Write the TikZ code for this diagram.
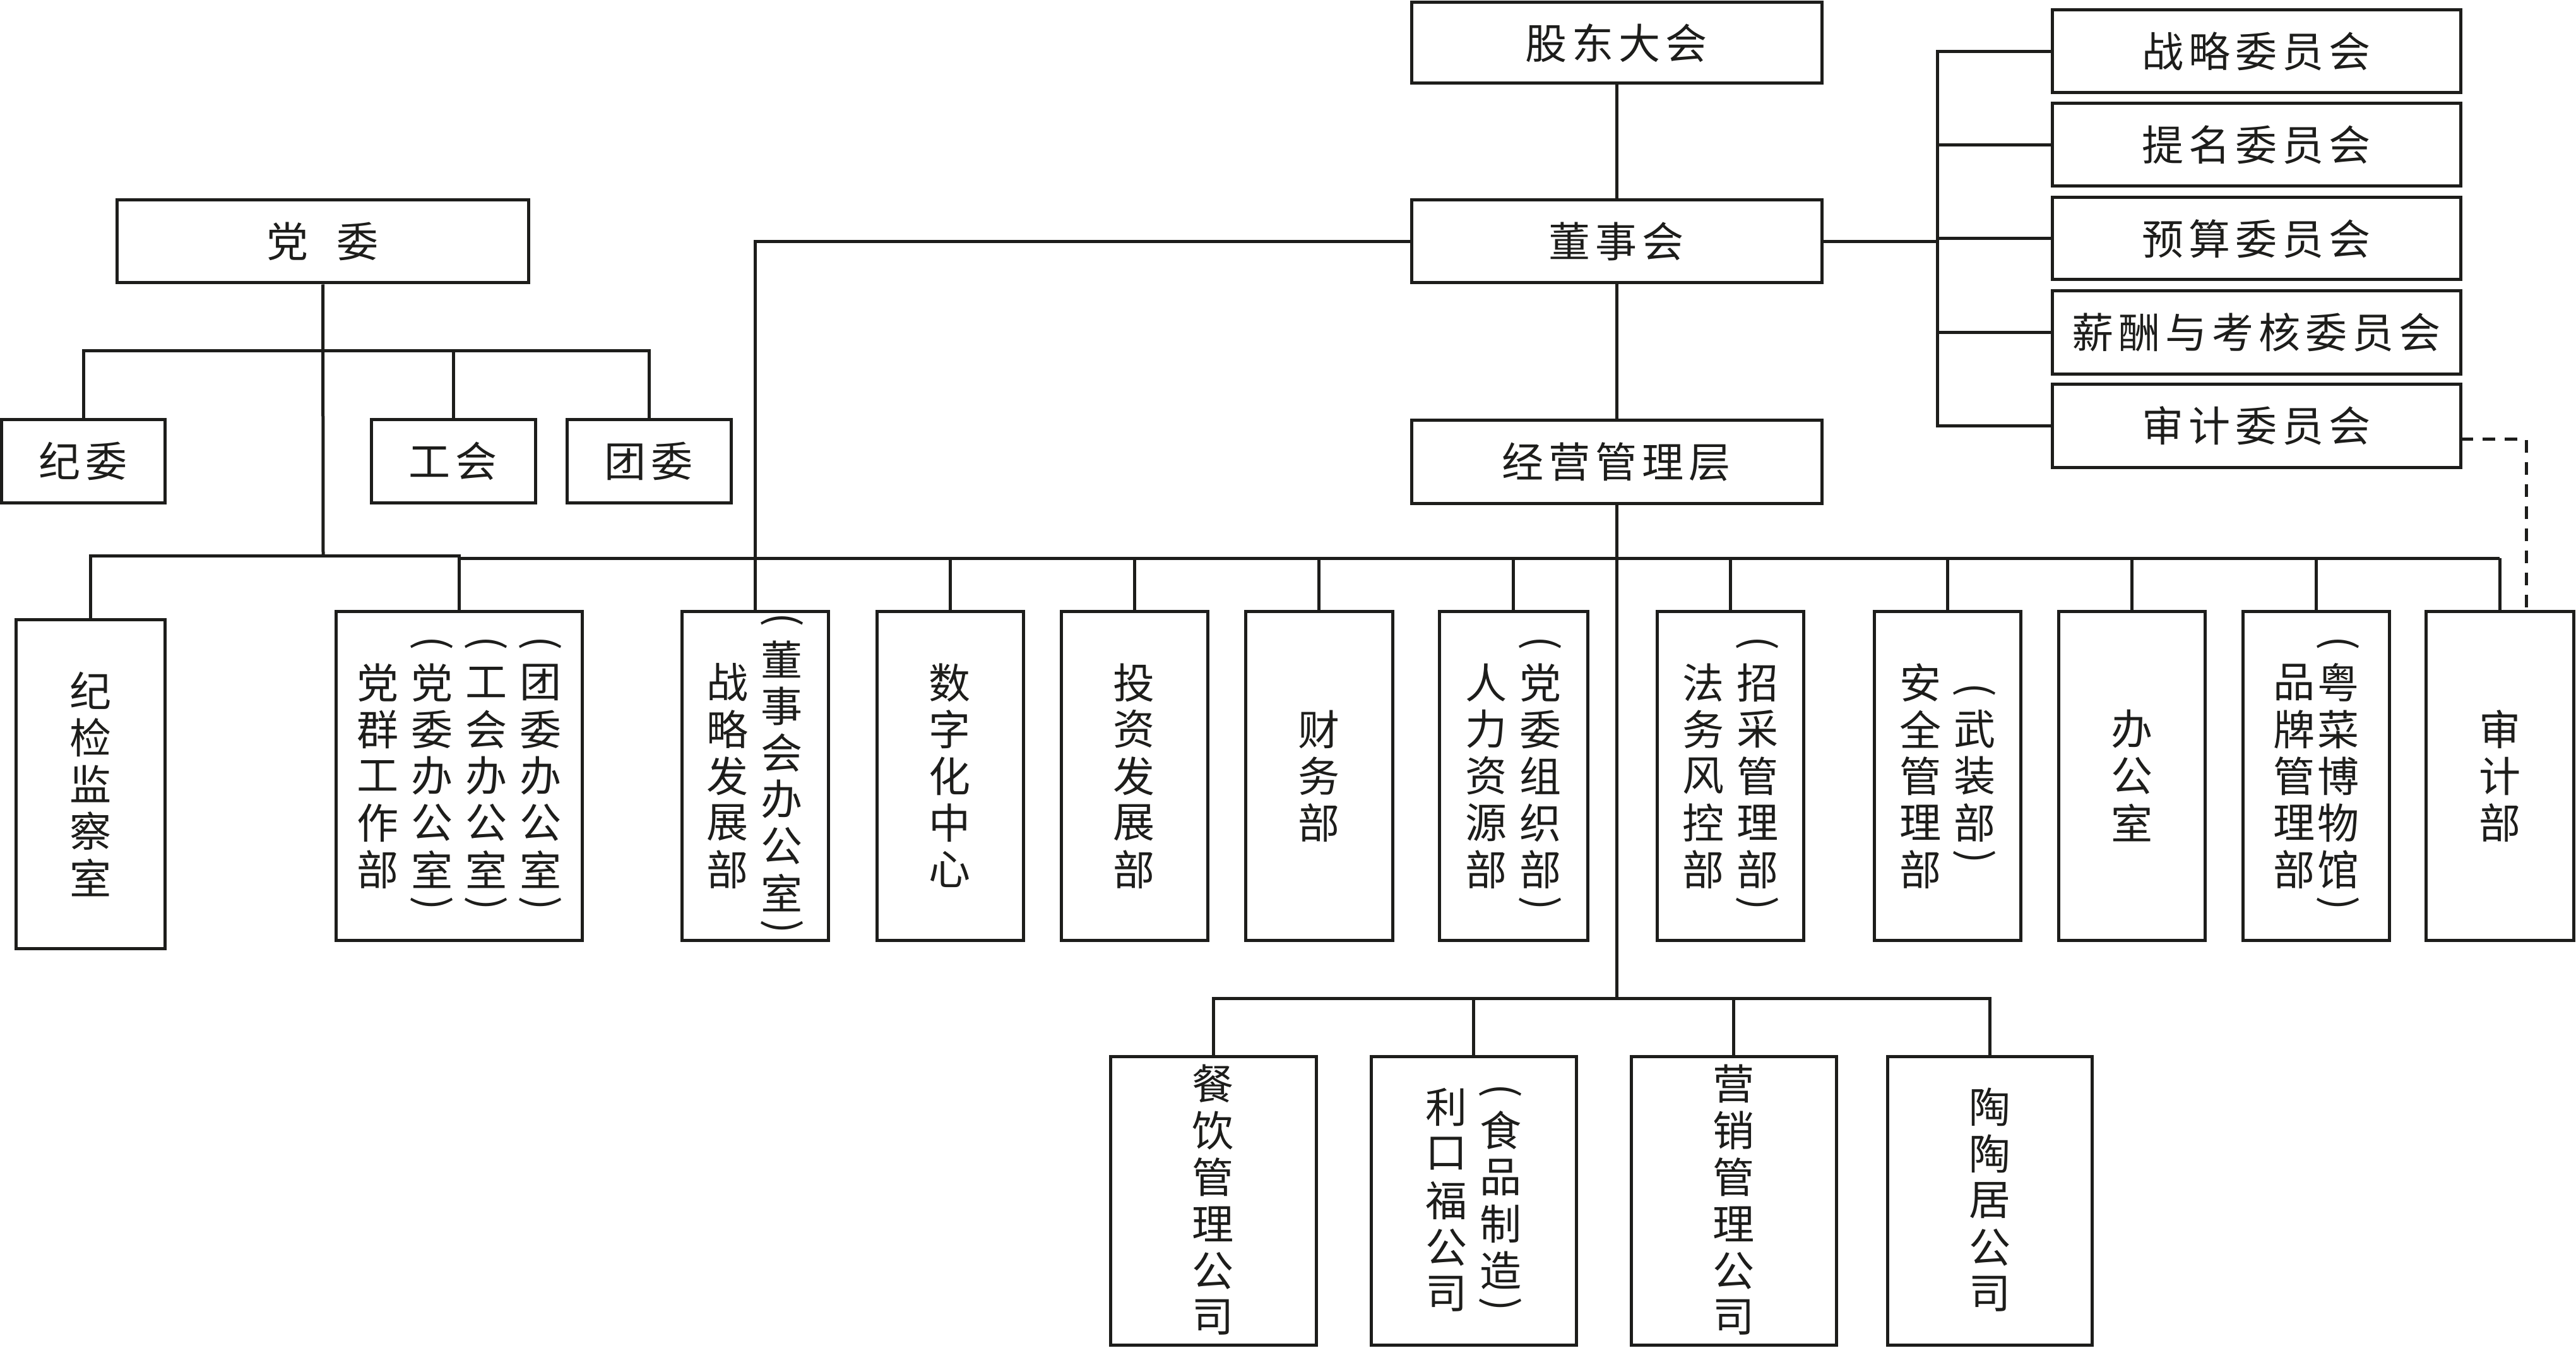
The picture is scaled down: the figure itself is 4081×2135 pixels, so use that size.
\documentclass[tikz,border=0pt]{standalone}
\usepackage{fontspec}
\setmainfont{Noto Sans CJK SC}
\usepackage{graphicx}
\usetikzlibrary{calc}
\definecolor{ink}{RGB}{29,29,27}
\newcommand\orgfont{\fontsize{18.8pt}{22pt}\selectfont}

\ExplSyntaxOn
\NewDocumentCommand \hchars { O{7.4mm} m }
  { \tl_map_inline:nn {#2} { \hbox_to_wd:nn {#1} { \hss ##1 \hss } } }
\cs_new:Npn \org_slot:nn #1#2
  { \hbox_to_wd:nn {#1} { \hss \vbox_to_ht:nn {7.4mm} { \vss \hbox:n {#2} \vss } \hss } }
\cs_new:Npn \org_bslot:nn #1#2
  { \hbox_to_wd:nn {#1} { \hss \vbox_to_ht:nn {4.2mm} { \vss \hbox:n { \rotatebox[origin=c]{-90}{#2} } \vss } \hss } }
\NewDocumentCommand \vcol { O{8.6mm} m }
  { \vcenter { \offinterlineskip \tl_map_inline:nn {#2} { \org_slot:nn {#1} {##1} } } }
\NewDocumentCommand \vcolb { O{8.6mm} m }
  { \vcenter { \offinterlineskip \org_bslot:nn {#1} {(} \tl_map_inline:nn {#2} { \org_slot:nn {#1} {##1} } \org_bslot:nn {#1} {)} } }
\ExplSyntaxOff

\newcommand\orgbox[6]{%
  \pgfmathsetmacro\obw{(#4-#2)*0.1}%
  \pgfmathsetmacro\obh{(#5-#3)*0.1}%
  \pgfmathsetmacro\obx{(#2+#4)/2}%
  \pgfmathsetmacro\oby{(#3+#5)/2}%
  \node[orgnode, minimum width=\obw mm, minimum height=\obh mm] (#1) at (\obx,\oby) {#6};}
\newcommand\vorgbox[6]{%
  \orgbox{#1}{#2}{#3}{#4}{#5}{}%
  \node[vtext] (#1-t) at (#1.center) {$#6$};}

\begin{document}
\begin{tikzpicture}[x=0.1mm,y=-0.1mm,
  orgnode/.style={draw=ink,line width=0.5mm,inner sep=0pt,text=ink,font=\orgfont},
  vtext/.style={inner sep=0pt,text=ink,font=\orgfont},
  conn/.style={draw=ink,line width=0.5mm},
  dashconn/.style={draw=ink,line width=0.5mm,dash pattern=on 2mm off 1.5mm}]
\useasboundingbox (0,0) rectangle (4081,2135);

% top level
\orgbox{gd}{2236}{4}{2886}{132}{\hchars{股东大会}}
\orgbox{dsh}{2236}{317}{2886}{448}{\hchars{董事会}}
\orgbox{jy}{2236}{666}{2886}{797}{\hchars{经营管理层}}
\orgbox{dw}{186}{317}{837}{448}{\hchars[11.1mm]{党委}}
\orgbox{jw}{3}{665}{261}{796}{\hchars{纪委}}
\orgbox{gh}{588}{665}{848}{796}{\hchars{工会}}
\orgbox{tw}{898}{665}{1158}{796}{\hchars{团委}}

% committees
\orgbox{zl}{3251}{16}{3898}{147}{\hchars{战略委员会}}
\orgbox{tm}{3251}{164}{3898}{295}{\hchars{提名委员会}}
\orgbox{ys}{3251}{313}{3898}{443}{\hchars{预算委员会}}
\orgbox{xc}{3251}{461}{3898}{592}{\hchars{薪酬与考核委员会}}
\orgbox{sj}{3251}{609}{3898}{740}{\hchars{审计委员会}}

% departments
\vorgbox{jjjcs}{26}{982}{261}{1502}{\vcol{纪检监察室}}
\vorgbox{dq}{533}{969}{922}{1489}{\vcol{党群工作部}\vcolb{党委办公室}\vcolb{工会办公室}\vcolb{团委办公室}}
\vorgbox{zlfz}{1080}{969}{1312}{1489}{\vcol{战略发展部}\vcolb{董事会办公室}}
\vorgbox{szh}{1389}{969}{1621}{1489}{\vcol{数字化中心}}
\vorgbox{tzfz}{1681}{969}{1913}{1489}{\vcol{投资发展部}}
\vorgbox{cw}{1973}{969}{2206}{1489}{\vcol{财务部}}
\vorgbox{rlzy}{2280}{969}{2515}{1489}{\vcol{人力资源部}\vcolb{党委组织部}}
\vorgbox{fwfk}{2625}{969}{2857}{1489}{\vcol{法务风控部}\vcolb{招采管理部}}
\vorgbox{aq}{2969}{969}{3201}{1489}{\vcol{安全管理部}\vcolb{武装部}}
\vorgbox{bgs}{3261}{969}{3493}{1489}{\vcol{办公室}}
\vorgbox{pp}{3553}{969}{3785}{1489}{\vcol[7.0mm]{品牌管理部}\vcolb[7.0mm]{粤菜博物馆}}
\vorgbox{sjb}{3843}{969}{4077}{1489}{\vcol{审计部}}

% companies
\vorgbox{cy}{1759}{1673}{2085}{2130}{\vcol{餐饮管理公司}}
\vorgbox{lkf}{2172}{1673}{2497}{2130}{\vcol{利口福公司}\vcolb{食品制造}}
\vorgbox{yx}{2584}{1673}{2909}{2130}{\vcol{营销管理公司}}
\vorgbox{ttj}{2990}{1673}{3314}{2130}{\vcol{陶陶居公司}}

% junction coordinates
\coordinate (pb1) at (512,556);
\coordinate (pb2) at (512,880);
\coordinate (mb) at (2561,884);
\coordinate (sb) at (2561,1581);
\coordinate (bus) at (3069,382.5);
\coordinate (dA) at (3898,696);
\coordinate (dB) at (4002,969);

% connectors
\draw[conn] (gd.south) -- (dsh.north);
\draw[conn] (dsh.south) -- (jy.north);
\draw[conn] (jy.south) -- (sb);
\draw[conn] (dw.south) -- (pb2);
\draw[conn] (jw.north) |- (pb1) -| (tw.north);
\draw[conn] (gh.north) -- (gh.north |- pb1);
\draw[conn] (jjjcs.north) |- (pb2) -| (dq.north);
\draw[conn] (dq.north |- mb) -- (sjb.north |- mb);
\draw[conn] (dsh.west) -| (zlfz.north);
\foreach \n in {szh,tzfz,cw,rlzy,fwfk,aq,bgs,pp,sjb}
  \draw[conn] (\n.north) -- (\n.north |- mb);
\draw[conn] (cy.north) |- (sb) -| (ttj.north);
\draw[conn] (lkf.north) -- (lkf.north |- sb);
\draw[conn] (yx.north) -- (yx.north |- sb);
\draw[conn] (dsh.east) -- (bus);
\draw[conn] (zl.west) -| (bus);
\draw[conn] (sj.west) -| (bus);
\foreach \n in {tm,ys,xc}
  \draw[conn] (\n.west) -- (\n.west -| bus);
\draw[dashconn] (dA) -| (dB);
\end{tikzpicture}
\end{document}
